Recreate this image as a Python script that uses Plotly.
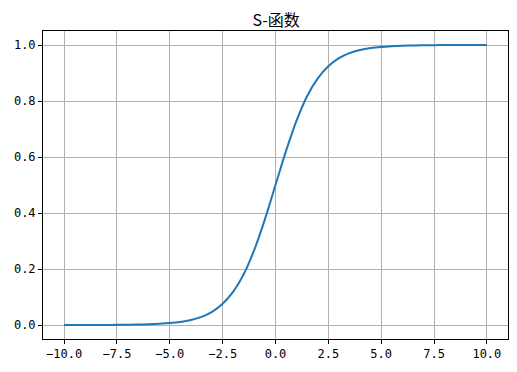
import plotly.graph_objects as go

x_vals = [-10, -9.5, -9, -8.5, -8, -7.5, -7, -6.5, -6, -5.5, -5, -4.5, -4, -3.5, -3, -2.5, -2, -1.5, -1, -0.5,
          0, 0.5, 1, 1.5, 2, 2.5, 3, 3.5, 4, 4.5, 5, 5.5, 6, 6.5, 7, 7.5, 8, 8.5, 9, 9.5, 10]
y_vals = [0.0000, 0.0001, 0.0001, 0.0002, 0.0003, 0.0006, 0.0009, 0.0015, 0.0025, 0.0041, 0.0067, 0.011, 0.018,
          0.029, 0.047, 0.076, 0.119, 0.182, 0.269, 0.378,
          0.5, 0.622, 0.731, 0.818, 0.881, 0.924, 0.953, 0.971, 0.982, 0.989, 0.9933, 0.9959, 0.9975, 0.9985,
          0.9991, 0.9994, 0.9997, 0.9998, 0.9999, 0.9999, 1.0000]
x_ticks = [-10, -7.5, -5, -2.5, 0, 2.5, 5, 7.5, 10]
y_ticks = [0.0, 0.2, 0.4, 0.6, 0.8, 1.0]
title_text = "S-函数"

fig = go.Figure(go.Scatter(x=x_vals, y=y_vals, mode="lines", line=dict(color="#1f77b4", width=2, shape="spline"),
                           showlegend=False))

axis_common = dict(showline=True, mirror=True, linecolor="black", linewidth=1, ticks="outside", ticklen=4,
                   tickcolor="black", showgrid=True, gridcolor="#b0b0b0", gridwidth=1, zeroline=False,
                   tickfont=dict(family="DejaVu Sans Mono", size=12, color="black"), tickformat=".1f")

fig.update_layout(
    width=517, height=372,
    margin=dict(l=43, r=9, t=31, b=33),
    paper_bgcolor="white", plot_bgcolor="white",
    title=dict(text=title_text, x=0.534, xanchor="center", y=1 - 20 / 372, yanchor="middle",
               font=dict(family="Noto Sans CJK SC", size=16, color="black")),
    xaxis=dict(range=[-11, 11], tickvals=x_ticks, **axis_common),
    yaxis=dict(range=[-0.05, 1.05], tickvals=y_ticks, **axis_common),
)

fig.write_html("out.html")
